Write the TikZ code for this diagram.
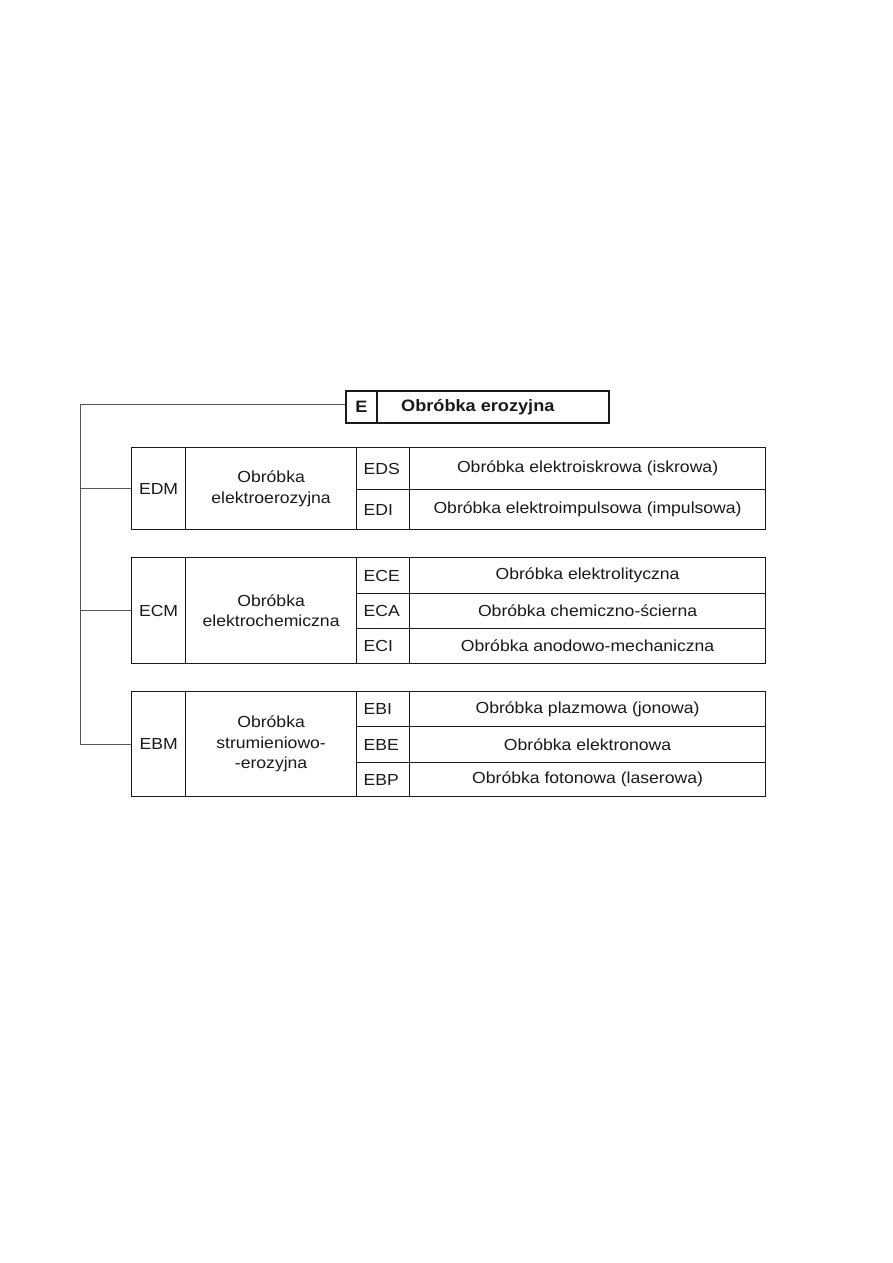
\documentclass[tikz,border=0pt]{standalone}
\usepackage{fontspec}
\setmainfont{Liberation Sans}[FakeStretch=1.1]
\usepackage{xcolor}
\usepackage{tikz}
\usetikzlibrary{positioning, calc}
\definecolor{ink}{HTML}{1A1A1A}
\definecolor{wire}{HTML}{555555}

\tikzset{
  cell/.style={draw=ink, line width=1.2pt, anchor=north west, inner sep=0pt, align=center,
    font=\fontsize{16}{20.5}\selectfont, text=ink},
  code/.style={cell, align=left, text width=39, minimum width=53},
  head/.style={cell, line width=1.6pt, font=\bfseries\fontsize{16.5}{20}\selectfont},
  link/.style={draw=wire, line width=0.8pt}
}

\begin{document}
\begin{tikzpicture}[x=1pt, y=-1pt]
  \useasboundingbox[fill=white] (0,0) rectangle (893,1263);

  % header
  \node[head, minimum width=31, minimum height=32] (e) at (345,390) {E};
  \node[head, minimum width=232, minimum height=32] (eName) at (376,390) {Obróbka erozyjna\hspace*{30pt}};

  % EDM group
  \node[cell, minimum width=54, minimum height=82] (edm) at (131,447) {EDM};
  \node[cell, minimum width=171, minimum height=82] (edmName) at (185,447) {Obróbka\\elektroerozyjna};
  \node[code, minimum height=42] (eds) at (356,447) {EDS};
  \node[cell, minimum width=356, minimum height=42] (edsName) at (409,447) {Obróbka elektroiskrowa (iskrowa)};
  \node[code, minimum height=40] (edi) at (356,489) {EDI};
  \node[cell, minimum width=356, minimum height=40] (ediName) at (409,489) {Obróbka elektroimpulsowa (impulsowa)};

  % ECM group
  \node[cell, minimum width=54, minimum height=106] (ecm) at (131,557) {ECM};
  \node[cell, minimum width=171, minimum height=106] (ecmName) at (185,557) {Obróbka\\elektrochemiczna};
  \node[code, minimum height=36] (ece) at (356,557) {ECE};
  \node[cell, minimum width=356, minimum height=36] (eceName) at (409,557) {Obróbka elektrolityczna};
  \node[code, minimum height=35] (eca) at (356,593) {ECA};
  \node[cell, minimum width=356, minimum height=35] (ecaName) at (409,593) {Obróbka chemiczno-ścierna};
  \node[code, minimum height=35] (eci) at (356,628) {ECI};
  \node[cell, minimum width=356, minimum height=35] (eciName) at (409,628) {Obróbka anodowo-mechaniczna};

  % EBM group
  \node[cell, minimum width=54, minimum height=105] (ebm) at (131,691) {EBM};
  \node[cell, minimum width=171, minimum height=105] (ebmName) at (185,691) {Obróbka\\strumieniowo-\\-erozyjna};
  \node[code, minimum height=35] (ebi) at (356,691) {EBI};
  \node[cell, minimum width=356, minimum height=35] (ebiName) at (409,691) {Obróbka plazmowa (jonowa)};
  \node[code, minimum height=36] (ebe) at (356,726) {EBE};
  \node[cell, minimum width=356, minimum height=36] (ebeName) at (409,726) {Obróbka elektronowa};
  \node[code, minimum height=34] (ebp) at (356,762) {EBP};
  \node[cell, minimum width=356, minimum height=34] (ebpName) at (409,762) {Obróbka fotonowa (laserowa)};

  % connectors
  \coordinate (trunk) at (80,404);
  \draw[link] (e.west |- trunk) -- (trunk) |- (ebm.west);
  \draw[link] (trunk |- edm.west) -- (edm.west);
  \draw[link] (trunk |- ecm.west) -- (ecm.west);
\end{tikzpicture}
\end{document}
